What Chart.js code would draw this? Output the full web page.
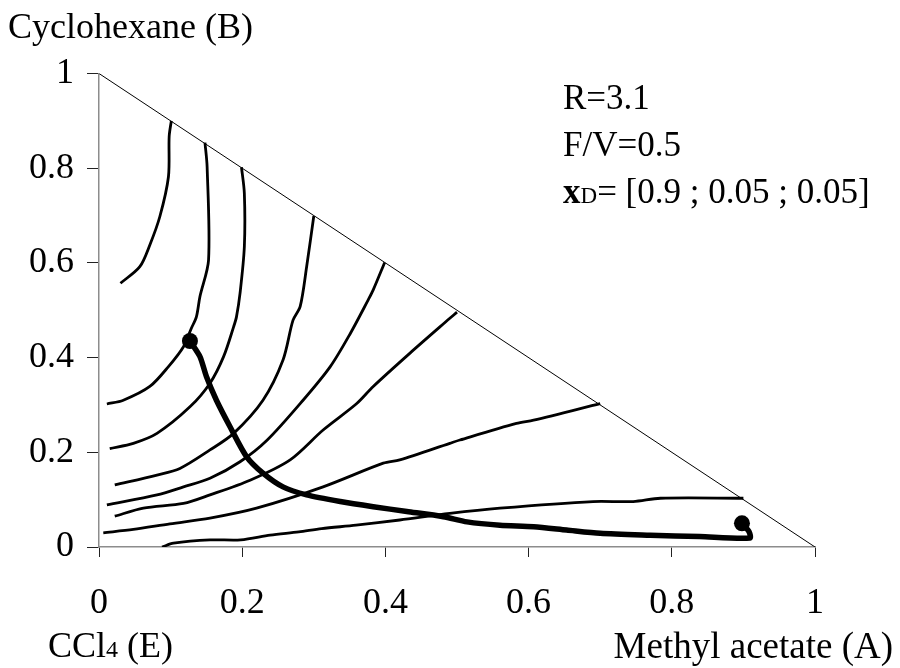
<!DOCTYPE html>
<html><head><meta charset="utf-8">
<script src="https://cdn.jsdelivr.net/npm/chart.js@4.4.0/dist/chart.umd.min.js"></script>
<style>
html,body{margin:0;padding:0;background:#fff;}
#wrap{position:relative;width:900px;height:668px;font-family:"Liberation Serif","Times New Roman",serif;color:#000;overflow:hidden;}
#c{position:absolute;left:0;top:0;}
.t{position:absolute;white-space:nowrap;line-height:1;}
</style></head><body>
<div id="wrap">
<canvas id="c" width="900" height="668"></canvas>
<div class="t" style="left:8px;top:8px;font-size:36px;">Cyclohexane (B)</div>
<div class="t" style="left:48px;top:627px;font-size:36px;">CCl<span style="font-size:24px">4</span> (E)</div>
<div class="t" style="right:7px;top:627px;font-size:37px;">Methyl acetate (A)</div>
<div class="t" style="left:563px;top:80px;font-size:35px;">R=3.1</div>
<div class="t" style="left:563px;top:127px;font-size:35px;">F/V=0.5</div>
<div class="t" style="left:563px;top:174px;font-size:35px;"><b>x</b><span style="font-size:23px">D</span>= [0.9 ; 0.05 ; 0.05]</div>
</div>
<script>
// axis ticks
const tickValues = [0, 0.2, 0.4, 0.6, 0.8, 1];
const tickLabels = ['0', '0.2', '0.4', '0.6', '0.8', '1'];

// triangle hypotenuse (x_A + x_B = 1)
const boundary = [[0, 1], [1, 0]];

// thin curves: [x_A, x_B]
const curve1 = [[0.030,0.557],[0.057,0.592],[0.071,0.638],[0.085,0.698],[0.097,0.782],[0.098,0.867],[0.101,0.900]];
const curve2 = [[0.148,0.854],[0.151,0.803],[0.153,0.606],[0.141,0.529],[0.136,0.486],[0.129,0.462],[0.118,0.423],[0.097,0.381],[0.071,0.339],[0.034,0.310],[0.011,0.302]];
const curve3 = [[0.199,0.802],[0.203,0.747],[0.203,0.634],[0.197,0.536],[0.192,0.486],[0.188,0.465],[0.174,0.402],[0.155,0.346],[0.127,0.296],[0.081,0.240],[0.048,0.219],[0.015,0.208]];
const curve4 = [[0.300,0.699],[0.290,0.592],[0.281,0.508],[0.271,0.479],[0.257,0.395],[0.229,0.310],[0.188,0.240],[0.155,0.205],[0.113,0.166],[0.081,0.152],[0.022,0.131]];
const curve5 = [[0.399,0.601],[0.383,0.543],[0.376,0.522],[0.351,0.451],[0.323,0.381],[0.285,0.310],[0.235,0.226],[0.197,0.180],[0.155,0.145],[0.118,0.127],[0.081,0.110],[0.011,0.089]];
const curve6 = [[0.500,0.496],[0.490,0.483],[0.434,0.409],[0.383,0.339],[0.360,0.303],[0.313,0.247],[0.267,0.184],[0.211,0.141],[0.155,0.110],[0.118,0.092],[0.062,0.082],[0.022,0.065]];
const curve7 = [[0.700,0.303],[0.607,0.268],[0.583,0.261],[0.504,0.226],[0.490,0.219],[0.420,0.184],[0.397,0.177],[0.313,0.127],[0.220,0.082],[0.155,0.061],[0.099,0.049],[0.048,0.037],[0.006,0.030]];
const curve8 = [[0.088,0.000],[0.104,0.008],[0.155,0.015],[0.198,0.015],[0.239,0.025],[0.279,0.032],[0.311,0.039],[0.359,0.046],[0.420,0.057],[0.490,0.071],[0.560,0.082],[0.690,0.096],[0.746,0.096],[0.784,0.103],[0.900,0.103]];

// column composition profile (thick)
const profile = [[0.127,0.435],[0.141,0.402],[0.150,0.360],[0.164,0.310],[0.183,0.254],[0.206,0.191],[0.229,0.156],[0.257,0.127],[0.290,0.110],[0.337,0.096],[0.383,0.085],[0.430,0.075],[0.481,0.064],[0.514,0.053],[0.560,0.046],[0.607,0.043],[0.653,0.036],[0.700,0.029],[0.770,0.025],[0.839,0.022],[0.909,0.019],[0.908,0.032],[0.898,0.050]];
// end points of the profile
const endPoints = [[0.127,0.435],[0.898,0.050]];

const pts = a => a.map(p => ({x: p[0], y: p[1]}));
const thin = [curve1, curve2, curve3, curve4, curve5, curve6, curve7, curve8].map(c => ({
  data: pts(c), showLine: true, borderColor: '#000', borderWidth: 2.8, pointRadius: 0,
  borderJoinStyle: 'round', borderCapStyle: 'butt', tension: 0.3
}));

const serif = '"Liberation Serif", "Times New Roman", serif';

new Chart(document.getElementById('c'), {
  type: 'scatter',
  data: {
    datasets: [
      {data: pts(boundary), showLine: true, borderColor: '#000', borderWidth: 1, pointRadius: 0},
      ...thin,
      {data: pts(profile), showLine: true, borderColor: '#000', borderWidth: 5.5, pointRadius: 0, borderJoinStyle: 'round', tension: 0.25},
      {data: pts(endPoints), showLine: false, pointRadius: 8, pointBackgroundColor: '#000', pointBorderColor: '#000', pointBorderWidth: 0}
    ]
  },
  options: {
    responsive: false,
    animation: false,
    events: [],
    layout: {padding: {left: 0, right: 85, top: 73.5, bottom: 0}},
    plugins: {legend: {display: false}, tooltip: {enabled: false}},
    scales: {
      x: {
        type: 'linear', min: 0, max: 1,
        afterBuildTicks: s => { s.ticks = tickValues.map(v => ({value: v})); },
        afterFit: s => { s.height = 121; },
        grid: {drawOnChartArea: false, drawTicks: true, tickLength: 10, color: '#222', lineWidth: 1},
        border: {display: true, color: '#8c8c8c', width: 1.5},
        ticks: {padding: 25, color: '#000', font: {family: serif, size: 36}, maxRotation: 0,
          callback: (v, i) => tickLabels[i]}
      },
      y: {
        type: 'linear', min: 0, max: 1,
        afterBuildTicks: s => { s.ticks = tickValues.map(v => ({value: v})); },
        afterFit: s => { s.width = 99; },
        grid: {drawOnChartArea: false, drawTicks: true, tickLength: 12, color: '#222', lineWidth: 1},
        border: {display: true, color: '#8c8c8c', width: 1.5},
        ticks: {padding: 13, color: '#000', font: {family: serif, size: 36},
          callback: (v, i) => tickLabels[i]}
      }
    }
  }
});
</script>
</body></html>
